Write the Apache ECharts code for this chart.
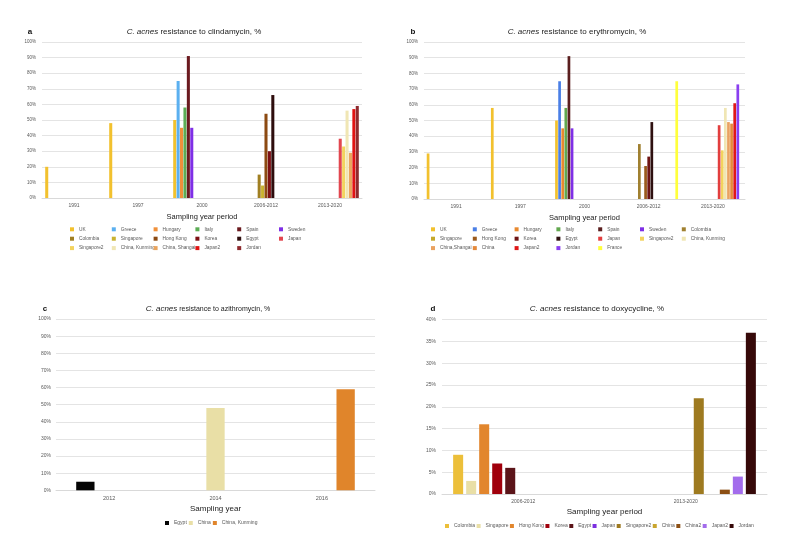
<!DOCTYPE html>
<html><head><meta charset="utf-8">
<script src="https://cdn.jsdelivr.net/npm/echarts@6/dist/echarts.min.js"></script>
<style>html,body{margin:0;padding:0;background:#fff;width:793px;height:551px;overflow:hidden}
.c{position:absolute;left:0;top:0;width:793px;height:551px}</style></head>
<body>
<div id="pa" class="c"></div><div id="pb" class="c"></div><div id="pc" class="c"></div><div id="pd" class="c"></div>
<script>
// ---------- Panel a: clindamycin ----------
const catsA = ['1991','1997','2000','2006-2012','2013-2020'];
const namesA = ['UK','Greece','Hungary','Italy','Spain','Sweden','Colombia','Singapore','Hong Kong','Korea','Egypt','Japan','Singapore2','China, Kunming','China, Shangai','Japan2','Jordan'];
const valuesA = [
  [20,48,50,null,null],   // UK
  [null,null,75,null,null], // Greece
  [null,null,45,null,null], // Hungary
  [null,null,58,null,null], // Italy
  [null,null,91,null,null], // Spain
  [null,null,45,null,null], // Sweden
  [null,null,null,15,null], // Colombia
  [null,null,null,8,null],  // Singapore
  [null,null,null,54,null], // Hong Kong
  [null,null,null,30,null], // Korea
  [null,null,null,66,null], // Egypt
  [null,null,null,null,38], // Japan
  [null,null,null,null,33], // Singapore2
  [null,null,null,null,56], // China, Kunming
  [null,null,null,null,29], // China, Shangai
  [null,null,null,null,57], // Japan2
  [null,null,null,null,59]  // Jordan
];
const colorsA = ['#f2c12e','#5bb0f0','#f0903a','#5cad55','#6b1a1f','#7f2fe6','#a07f22','#c9b22f','#8c4a12','#7d0f14','#2e0d0d','#e2474f','#f3d35e','#f0e6b4','#e9a45e','#e01313','#8e2a2e'];

// ---------- Panel b: erythromycin ----------
const catsB = ['1991','1997','2000','2006-2012','2013-2020'];
const namesB = ['UK','Greece','Hungary','Italy','Spain','Sweden','Colombia','Singapore','Hong Kong','Korea','Egypt','Japan','Singapore2','China, Kunming','China,Shangai','China','Japan2','Jordan','France'];
const valuesB = [
  [29,58,50,null,null],   // UK
  [null,null,75,null,null], // Greece
  [null,null,45,null,null], // Hungary
  [null,null,58,null,null], // Italy
  [null,null,91,null,null], // Spain
  [null,null,45,null,null], // Sweden
  [null,null,null,35,null], // Colombia
  [null,null,null,null,null], // Singapore
  [null,null,null,21,null], // Hong Kong
  [null,null,null,27,null], // Korea
  [null,null,null,49,null], // Egypt
  [null,null,null,null,47], // Japan
  [null,null,null,null,31], // Singapore2
  [null,null,null,null,58], // China, Kunming
  [null,null,null,null,49], // China,Shangai
  [null,null,null,null,48], // China
  [null,null,null,null,61], // Japan2
  [null,null,null,null,73], // Jordan
  [null,null,null,75,null]  // France
];
const colorsB = ['#f2c12e','#4a7fe6','#e8892f','#62a84f','#5a1e1e','#7f2fe6','#a08030','#c5a82a','#9a5a1c','#6e1414','#2e1010','#e23e3e','#f3d35e','#f0e6b4','#eaa260','#e5893a','#e01818','#8a3ff0','#ffff3c'];

// ---------- Panel c: azithromycin ----------
const catsC = ['2012','2014','2016'];
const namesC = ['Egypt','China','China, Kunming'];
const valuesC = [
  [5,null,null],
  [null,48,null],
  [null,null,59]
];
const colorsC = ['#050505','#e9dfa6','#e0852b'];

// ---------- Panel d: doxycycline ----------
const catsD = ['2006-2012','2013-2020'];
const namesD = ['Colombia','Singapore','Hong Kong','Korea','Egypt','Japan','Singapore2','China','China2','Japan2','Jordan'];
const valuesD = [
  [9,null],[3,null],[16,null],[7,null],[6,null],[null,null],
  [null,22],[null,null],[null,1],[null,4],[null,37]
];
const colorsD = ['#ecbf3a','#e9dfa6','#e2862d','#a0000c','#5b1419','#7b2fe0','#9e7a20','#c9a52e','#8c4f14','#a36cec','#360909'];

const FONT = '"Liberation Sans", Arial, sans-serif';

function legendBase(data, left, top, gap, fs) {
  return {
    data: data, left: left, top: top,
    orient: 'horizontal', icon: 'rect', itemWidth: 4, itemHeight: 4,
    itemGap: gap, padding: 0, selectedMode: false,
    textStyle: {fontSize: fs, color: '#595959', fontFamily: FONT}
  };
}

function build(el, o) {
  const chart = echarts.init(document.getElementById(el), null, {renderer: 'canvas'});
  const series = o.names.map((n, i) => ({
    type: 'bar', name: n, data: o.values[i],
    itemStyle: {color: o.colors[i]},
    barGap: o.barGap, barCategoryGap: o.barCat,
    animation: false
  }));
  let legends;
  if (o.legendCols) {
    // grid-like legend: one component per entry so columns line up
    legends = o.names.map((n, i) => {
      const r = Math.floor(i / o.legendCols), c = i % o.legendCols;
      return legendBase([n], o.legendLeft + c * o.legendColStep, o.legendTop + r * o.legendStep, 0, 4.8);
    });
  } else {
    legends = [legendBase(o.names, o.legendLeft, o.legendTop, o.legendGap, 5)];
  }
  chart.setOption({
    animation: false,
    textStyle: {fontFamily: FONT},
    grid: {left: o.grid[0], top: o.grid[1], width: o.grid[2], height: o.grid[3], containLabel: false},
    xAxis: {
      type: 'category', data: o.cats,
      axisLine: {lineStyle: {color: '#d9d9d9'}}, axisTick: {show: false},
      axisLabel: {fontSize: o.xFont, color: '#595959', margin: o.xMargin, interval: 0},
      name: o.xName, nameLocation: 'middle', nameGap: o.nameGap,
      nameTextStyle: {fontSize: o.nameFont, color: '#222'}
    },
    yAxis: {
      type: 'value', min: 0, max: o.yMax, interval: o.yInt,
      axisLine: {show: false}, axisTick: {show: false},
      axisLabel: {formatter: '{value}%', fontSize: o.yFont, color: '#595959', margin: o.yMargin},
      splitLine: {lineStyle: {color: '#e4e4e4', width: 1}}
    },
    legend: legends,
    graphic: [
      {type: 'text', x: o.title[1], y: o.title[2], style: {
        text: o.title[0], align: 'center', verticalAlign: 'middle', fill: '#222',
        fontFamily: FONT, fontSize: 8,
        rich: {i: {fontStyle: 'italic', fontSize: o.italicSize || 8, fontFamily: FONT, fill: '#222'},
               n: {fontSize: o.restSize || 8, fontFamily: FONT, fill: '#222'}}
      }},
      {type: 'text', x: o.letter[1], y: o.letter[2], style: {
        text: o.letter[0], align: 'center', verticalAlign: 'middle', fill: '#111',
        fontFamily: FONT, fontSize: 8, fontWeight: 'bold'}}
    ],
    series: series
  });
}

build('pa', {
  cats: catsA, names: namesA, values: valuesA, colors: colorsA,
  grid: [42, 42, 320, 156], yMax: 100, yInt: 10, yFont: 4.5, yMargin: 6,
  xFont: 5, xMargin: 5, xName: 'Sampling year period', nameGap: 15, nameFont: 7.5,
  barGap: '12%', barCat: '10%',
  legendCols: 6, legendColStep: 41.8, legendLeft: 70, legendTop: 226.8, legendStep: 9.4,
  title: ['{i|C. acnes}{n| resistance to clindamycin, %}', 194, 32],
  letter: ['a', 30, 32]
});

build('pb', {
  cats: catsB, names: namesB, values: valuesB, colors: colorsB,
  grid: [424, 42, 321, 157], yMax: 100, yInt: 10, yFont: 4.5, yMargin: 6,
  xFont: 5, xMargin: 5, xName: 'Sampling year period', nameGap: 15, nameFont: 7.5,
  barGap: '15%', barCat: '8.5%',
  legendCols: 7, legendColStep: 41.8, legendLeft: 431, legendTop: 226.8, legendStep: 9.4,
  title: ['{i|C. acnes}{n| resistance to erythromycin, %}', 577, 32],
  letter: ['b', 413, 32]
});

build('pc', {
  cats: catsC, names: namesC, values: valuesC, colors: colorsC,
  grid: [56, 319, 319, 171.3], yMax: 100, yInt: 10, yFont: 5, yMargin: 5,
  xFont: 5.5, xMargin: 5, xName: 'Sampling year', nameGap: 14, nameFont: 8,
  barGap: '30%', barCat: '38%',
  legendLeft: 165, legendTop: 520.5, legendGap: 2,
  title: ['{i|C. acnes}{n| resistance to azithromycin, %}', 208, 309],
  italicSize: 8, restSize: 7,
  letter: ['c', 45, 309]
});

build('pd', {
  cats: catsD, names: namesD, values: valuesD, colors: colorsD,
  grid: [442, 319.7, 325, 174.3], yMax: 40, yInt: 5, yFont: 5, yMargin: 6,
  xFont: 5, xMargin: 5, xName: 'Sampling year period', nameGap: 14, nameFont: 8,
  barGap: '30%', barCat: '13.7%',
  legendLeft: 445, legendTop: 523.5, legendGap: 1.5,
  title: ['{i|C. acnes}{n| resistance to doxycycline, %}', 597, 309],
  letter: ['d', 433, 309]
});
</script>
</body></html>
